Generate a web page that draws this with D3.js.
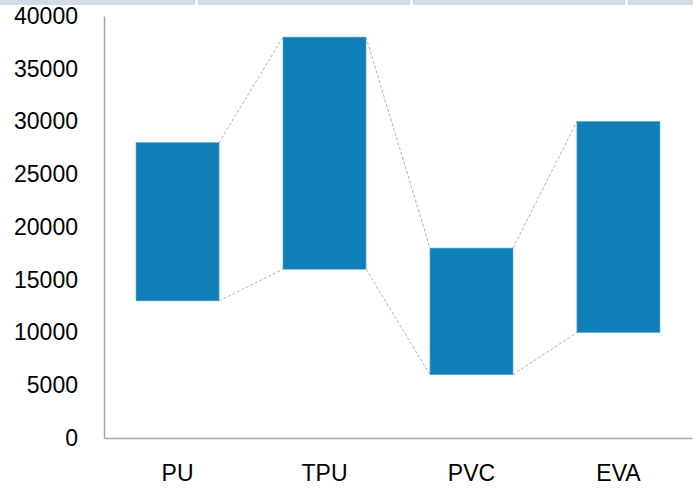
<!doctype html>
<html lang=en>
<head>
  <meta charset=utf-8>
  <title>Price range</title>
  <style>
    body { margin: 0; background: #fff; }
    svg { display: block; }
  </style>
</head>
<body>
  <svg></svg>
  <script src="https://cdn.jsdelivr.net/npm/d3@7/dist/d3.min.js"></script>
  <script>
    var categories = ["PU", "TPU", "PVC", "EVA"];
    var lowValues = [13000, 16000, 6000, 10000];
    var highValues = [28000, 38000, 18000, 30000];
    var yTicks = [0, 5000, 10000, 15000, 20000, 25000, 30000, 35000, 40000];

    var width = 693;
    var height = 491;

    var svg = d3.select("svg")
      .attr("width", width)
      .attr("height", height);

    // top strip
    [[0, 195], [198, 410], [413, 625], [628, 693]].forEach(function (s) {
      svg.append("rect")
        .attr("x", s[0]).attr("y", 0)
        .attr("width", s[1] - s[0]).attr("height", 5)
        .attr("fill", "#d3dbe9");
    });

    var xScale = d3.scaleBand()
      .domain(categories)
      .range([104, 692])
      .paddingInner(0.435)
      .paddingOuter(0.218);

    var yScale = d3.scaleLinear()
      .domain([0, 40000])
      .range([438, 16]);

    var font = "'Liberation Sans', Arial, sans-serif";

    // y axis
    var yAxis = svg.append("g")
      .attr("transform", "translate(104,0)")
      .call(d3.axisLeft(yScale).tickValues(yTicks).tickSize(0).tickPadding(26).tickFormat(d3.format("d")));
    yAxis.select(".domain").attr("stroke", "#a6a6a6").attr("stroke-width", 1.5);
    yAxis.selectAll("text")
      .attr("font-family", font)
      .attr("font-size", 23)
      .attr("fill", "#000");

    // x axis
    var xAxis = svg.append("g")
      .attr("transform", "translate(0,438)")
      .call(d3.axisBottom(xScale).tickSize(0).tickPadding(27));
    xAxis.select(".domain").attr("stroke", "#a6a6a6").attr("stroke-width", 1.5);
    xAxis.selectAll("text")
      .attr("font-family", font)
      .attr("font-size", 23)
      .attr("fill", "#000");

    var data = categories.map(function (c, i) {
      return { cat: c, low: lowValues[i], high: highValues[i] };
    });

    // dashed connectors
    var conn = svg.append("g");
    for (var i = 0; i < data.length - 1; i++) {
      var a = data[i], b = data[i + 1];
      var x1 = xScale(a.cat) + xScale.bandwidth();
      var x2 = xScale(b.cat);
      ["high", "low"].forEach(function (k) {
        conn.append("line")
          .attr("x1", x1).attr("y1", yScale(a[k]))
          .attr("x2", x2).attr("y2", yScale(b[k]))
          .attr("stroke", "#a6a6a6")
          .attr("stroke-width", 0.9)
          .attr("stroke-dasharray", "3,2");
      });
    }

    // floating bars
    svg.append("g")
      .selectAll("rect")
      .data(data)
      .join("rect")
      .attr("x", function (d) { return xScale(d.cat); })
      .attr("y", function (d) { return yScale(d.high); })
      .attr("width", xScale.bandwidth())
      .attr("height", function (d) { return yScale(d.low) - yScale(d.high); })
      .attr("fill", "#0f7fb7")
      .attr("stroke", "#5aa6d0")
      .attr("stroke-width", 0.6);
  </script>
</body>
</html>
